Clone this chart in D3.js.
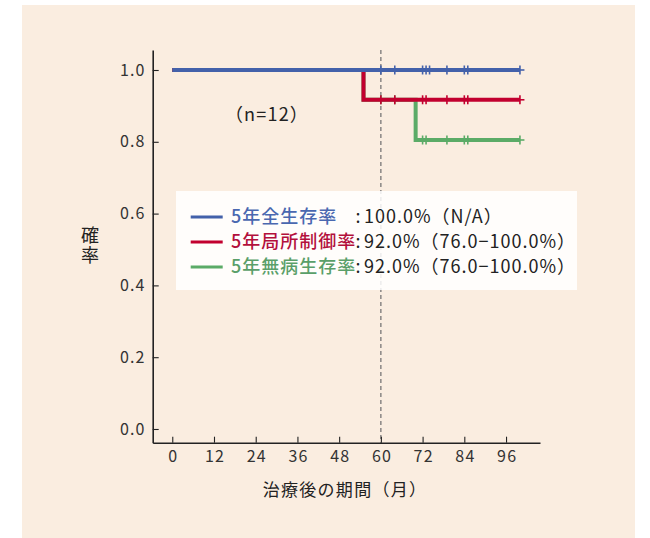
<!DOCTYPE html>
<html lang="ja">
<head>
<meta charset="utf-8">
<script src="https://cdn.jsdelivr.net/npm/d3@7"></script>
<style>
  html, body { margin: 0; padding: 0; background: #ffffff; }
  svg { display: block; font-family: "Noto Sans CJK JP", "Noto Sans", sans-serif; }
</style>
</head>
<body>
<svg id="chart" width="650" height="538"></svg>
<script>
// Kaplan–Meier curves (n = 12), time in months
const monthTicks = [0, 12, 24, 36, 48, 60, 72, 84, 96];
const probTicks = [0.0, 0.2, 0.4, 0.6, 0.8, 1.0];

// step points: [month, probability]
const osSteps  = [[0, 1.0], [100, 1.0]];
const lcSteps  = [[0, 1.0], [55, 1.0], [55, 0.917], [100, 0.917]];
const dfsSteps = [[0, 1.0], [55, 1.0], [55, 0.917], [70, 0.917], [70, 0.805], [100, 0.805]];

// censored observations (months)
const osCensor  = [60, 64, 72, 73, 74, 79, 84, 85, 100];
const lcCensor  = [60, 64, 72, 73, 79, 84, 85, 100];
const dfsCensor = [60, 64, 72, 73, 79, 84, 85, 100];

const seriesNames  = ["5年全生存率", "5年局所制御率", "5年無病生存率"];
const seriesValues = ["100.0%（N/A）", "92.0%（76.0−100.0%）", "92.0%（76.0−100.0%）"];
const lineColors = ["#4361aa", "#c2002f", "#5bab67"];
const textColors = ["#4a68b0", "#b3103c", "#5a9f69"];

const landmarkMonth = 60;
const sampleLabel = "（n=12）";

const svg = d3.select("#chart");

// panel background
svg.append("rect").attr("x", 22).attr("y", 5).attr("width", 613).attr("height", 533)
  .attr("fill", "#faede0");

const x = d3.scaleLinear().domain([-5.63, 105.77]).range([152.7, 540]);
const y = d3.scaleLinear().domain([-0.0382, 1.0557]).range([442.7, 50]);

// landmark at 5 years
svg.append("line")
  .attr("x1", x(landmarkMonth)).attr("x2", x(landmarkMonth))
  .attr("y1", y.range()[1]).attr("y2", y.range()[0])
  .attr("stroke", "#6e6e6e").attr("stroke-width", 1.2)
  .attr("stroke-dasharray", "4,3");

// axes
const xAxis = d3.axisBottom(x).tickValues(monthTicks).tickSizeInner(-6).tickSizeOuter(0).tickPadding(8);
const yAxis = d3.axisLeft(y).tickValues(probTicks).tickFormat(d3.format(".1f")).tickSizeInner(-6).tickSizeOuter(0).tickPadding(7);

const gx = svg.append("g").attr("transform", `translate(0,${y.range()[0]})`).call(xAxis);
const gy = svg.append("g").attr("transform", `translate(${x.range()[0]},0)`).call(yAxis);
[gx, gy].forEach(g => {
  g.select(".domain").attr("stroke", "#222").attr("stroke-width", 1.6);
  g.selectAll(".tick line").attr("stroke", "#222").attr("stroke-width", 1.1);
  g.selectAll(".tick text").attr("fill", "#333").attr("font-size", 16)
    .attr("letter-spacing", "1.2px")
    .attr("font-family", "\"Noto Sans CJK JP\", sans-serif");
});
// keep x tick labels centred despite letter spacing
gx.selectAll(".tick text").attr("dx", "0.6px");

// axis titles
svg.append("text").attr("x", 345).attr("y", 496).attr("text-anchor", "middle")
  .attr("font-size", 17).attr("letter-spacing", "1.3px").attr("fill", "#222").text("治療後の期間（月）");
svg.append("text").attr("x", 90).attr("y", 246).attr("text-anchor", "middle")
  .style("writing-mode", "vertical-rl").attr("letter-spacing", "2px")
  .attr("font-size", 18).attr("fill", "#222").text("確率");

// curves (DFS underneath, OS on top)
const stepLine = d3.line().x(d => x(d[0])).y(d => y(d[1]));
const curves = [
  {steps: dfsSteps, censor: dfsCensor, color: lineColors[2]},
  {steps: lcSteps,  censor: lcCensor,  color: lineColors[1]},
  {steps: osSteps,  censor: osCensor,  color: lineColors[0]}
];

function levelAt(steps, t) {
  let v = steps[0][1];
  for (const s of steps) if (s[0] <= t) v = s[1];
  return v;
}

curves.forEach(c => {
  svg.append("path").attr("d", stepLine(c.steps))
    .attr("fill", "none").attr("stroke", c.color).attr("stroke-width", 4)
    .attr("stroke-linejoin", "miter");
  const g = svg.append("g").attr("stroke", c.color).attr("stroke-width", 1.6);
  c.censor.forEach(t => {
    const cx = x(t), cy = y(levelAt(c.steps, t));
    g.append("line").attr("x1", cx).attr("x2", cx).attr("y1", cy - 4.5).attr("y2", cy + 4.5);
    if (t === c.censor[c.censor.length - 1]) {
      g.append("line").attr("x1", cx).attr("x2", cx + 4.5).attr("y1", cy).attr("y2", cy);
    }
  });
});

// sample size
svg.append("text").attr("x", 267).attr("y", 121).attr("text-anchor", "middle")
  .attr("font-size", 18).attr("letter-spacing", "1.2px").attr("fill", "#222").text(sampleLabel);

// legend
svg.append("rect").attr("x", 176).attr("y", 191).attr("width", 401).attr("height", 99)
  .attr("fill", "#ffffff").attr("fill-opacity", 0.85);
const rowY = [217, 242, 267];
seriesNames.forEach((name, i) => {
  svg.append("line").attr("x1", 190.7).attr("x2", 222.7).attr("y1", rowY[i]).attr("y2", rowY[i])
    .attr("stroke", lineColors[i]).attr("stroke-width", 3.2);
  svg.append("text").attr("x", 231).attr("y", rowY[i]).attr("dy", "0.36em")
    .attr("font-size", 18).attr("letter-spacing", "1px").attr("font-weight", 500)
    .attr("fill", textColors[i]).text(name);
  svg.append("text").attr("x", 358).attr("y", rowY[i]).attr("dy", "0.36em")
    .attr("text-anchor", "middle").attr("font-size", 18).attr("fill", "#222").text(":");
  svg.append("text").attr("x", 364).attr("y", rowY[i]).attr("dy", "0.36em")
    .attr("font-size", 18).attr("letter-spacing", "1px").attr("fill", "#222").text(seriesValues[i]);
});
</script>
</body>
</html>
